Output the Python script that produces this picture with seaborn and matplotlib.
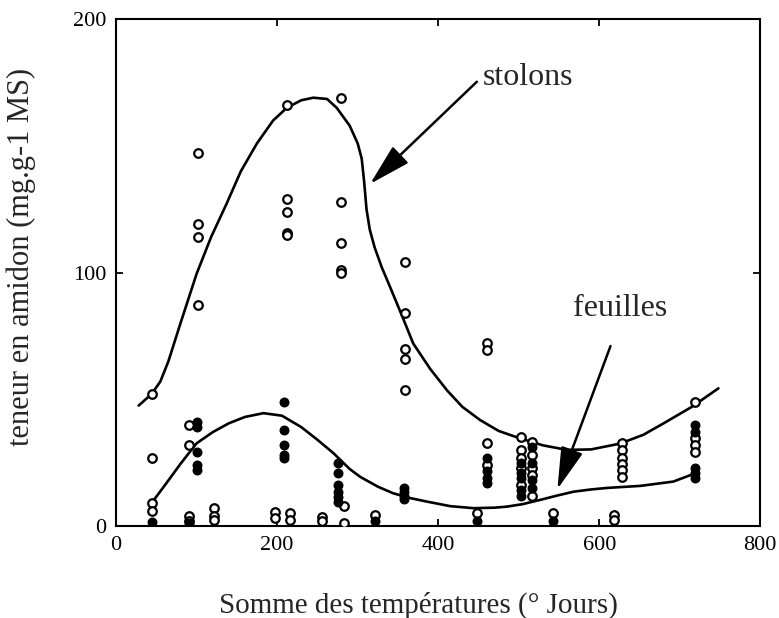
import matplotlib
matplotlib.use("Agg")
import matplotlib.pyplot as plt
import seaborn as sns
import pandas as pd

# points ouverts (cercles vides)
open_x = [44, 44, 44, 44, 90, 90, 90, 90, 102, 102, 102, 102, 121, 121, 121,
          197, 197, 212, 212, 212, 212, 212, 216, 216, 256, 256,
          279, 279, 279, 279, 279, 283, 283, 322, 359, 359, 359, 359, 359,
          448, 460, 460, 460, 460, 503, 503, 503, 503, 503,
          516, 516, 516, 516, 516, 543, 618, 618,
          628, 628, 628, 628, 628, 628, 719, 719, 719, 719]
open_y = [52, 27, 9, 6, 40, 32, 4, 2, 147, 119, 114, 87, 7, 4, 2.4,
          5.6, 3, 166, 129, 124, 115.5, 115, 5, 2.4, 3.5, 2,
          169, 128, 111.5, 101, 100, 8, 1, 4.3, 104, 84, 70, 66, 53.5,
          5, 72, 69.5, 32.6, 24, 35, 30, 27, 23, 16,
          33, 28, 23, 20, 12, 5, 4.3, 2.4,
          32.6, 30, 27, 24.5, 22, 19.5, 49, 34.6, 32, 29.3]

# points pleins
filled_x = [44, 90, 100, 100, 100, 100, 100, 209, 209, 209, 209, 209,
            276, 276, 276, 276, 276, 276, 322, 358, 358, 358, 358, 448,
            460, 460, 460, 460, 503, 503, 503, 503, 503, 516, 516, 516, 516,
            543, 719, 719, 719, 719, 719]
filled_y = [1.5, 1.2, 41, 39, 29, 24, 22, 49, 38, 32, 28, 27,
            25, 21, 16, 13.5, 11.5, 9.5, 2, 15, 13.5, 12, 10.5, 2,
            27, 21.5, 19, 17, 25, 21, 19, 14, 12, 31, 25, 18, 15,
            2, 40, 37, 23, 21, 19]

# courbes tracées à la main
stolons_x = [28, 44, 55, 65, 80, 100, 118, 137, 155, 175, 195, 212, 230, 245,
             262, 274, 290, 300, 305, 308, 311, 315, 321, 330, 340, 355, 369, 390,
             411, 430, 452, 475, 502, 530, 560, 590, 626, 655, 680, 715, 748]
stolons_y = [47.5, 52, 57, 65, 80, 99.5, 114, 127, 140, 151, 160, 165, 168, 169,
             168.5, 165, 158, 151, 145, 136, 125, 117, 110, 102, 94.5, 83, 72, 62,
             53.5, 47, 41.8, 37.5, 34.5, 31.8, 30, 30.2, 32.5, 36, 40.5, 47, 54.3]

feuilles_x = [44, 60, 80, 100, 120, 140, 160, 183, 206, 230, 250, 270, 290, 303,
              325, 344, 365, 386, 415, 444, 470, 485, 505, 527, 548, 568, 590,
              610, 651, 692, 717]
feuilles_y = [9, 15.8, 24.5, 32.6, 37, 40.5, 43, 44.5, 43.5, 39, 34, 28.7, 22.5, 19.4,
              15.5, 12.9, 11, 9.6, 7.8, 7, 7.2, 7.6, 8.6, 10.3, 12, 13.5, 14.4,
              15, 15.8, 17.5, 20.5]

x_ticks = [0, 200, 400, 600, 800]
y_ticks = [0, 100, 200]

sns.set_theme(style="ticks")
plt.rcParams['font.family'] = ['Liberation Serif', 'DejaVu Serif']

fig = plt.figure(figsize=(7.79, 6.18), dpi=100)
ax = fig.add_axes([0.149, 0.149, 0.827, 0.820])

pts_open = pd.DataFrame({'x': open_x, 'y': open_y})
pts_filled = pd.DataFrame({'x': filled_x, 'y': filled_y})
sns.scatterplot(data=pts_open, x='x', y='y', ax=ax, marker='o', s=38,
                facecolor='white', edgecolor='black', linewidth=1.6, zorder=3)
sns.scatterplot(data=pts_filled, x='x', y='y', ax=ax, marker='o', s=38,
                color='black', edgecolor='black', linewidth=1.0, zorder=3)

sns.lineplot(x=stolons_x, y=stolons_y, ax=ax, sort=False, color='black',
             linewidth=1.9, estimator=None, zorder=2)
sns.lineplot(x=feuilles_x, y=feuilles_y, ax=ax, sort=False, color='black',
             linewidth=1.9, estimator=None, zorder=2)

arrow = dict(arrowstyle='-|>,head_length=1.3,head_width=0.35', color='black',
             lw=1.8, mutation_scale=20, shrinkA=0, shrinkB=0)
ax.annotate('', xy=(315.5, 135), xytext=(448, 175.3), arrowprops=arrow)
ax.text(455, 177, 'stolons', fontsize=23, va='center', ha='left')
ax.annotate('', xy=(548, 14.5), xytext=(614, 71), arrowprops=arrow)
ax.text(568, 86, 'feuilles', fontsize=23, va='center', ha='left')

ax.set_xlim(0, 800)
ax.set_ylim(0, 200)
ax.set_xticks(x_ticks)
ax.set_yticks(y_ticks)
ax.tick_params(direction='in', length=5, width=1.3, top=True, right=True,
               labelsize=16, pad=7, colors='black')
for sp in ax.spines.values():
    sp.set_linewidth(1.5)
    sp.set_color('black')

ax.set_xlabel('Somme des températures (° Jours)', fontsize=21)
ax.set_ylabel('teneur en amidon (mg.g-1 MS)', fontsize=22)
ax.xaxis.set_label_coords(0.47, -0.13)
ax.yaxis.set_label_coords(-0.124, 0.53)

fig.savefig('out.png', dpi=100)
